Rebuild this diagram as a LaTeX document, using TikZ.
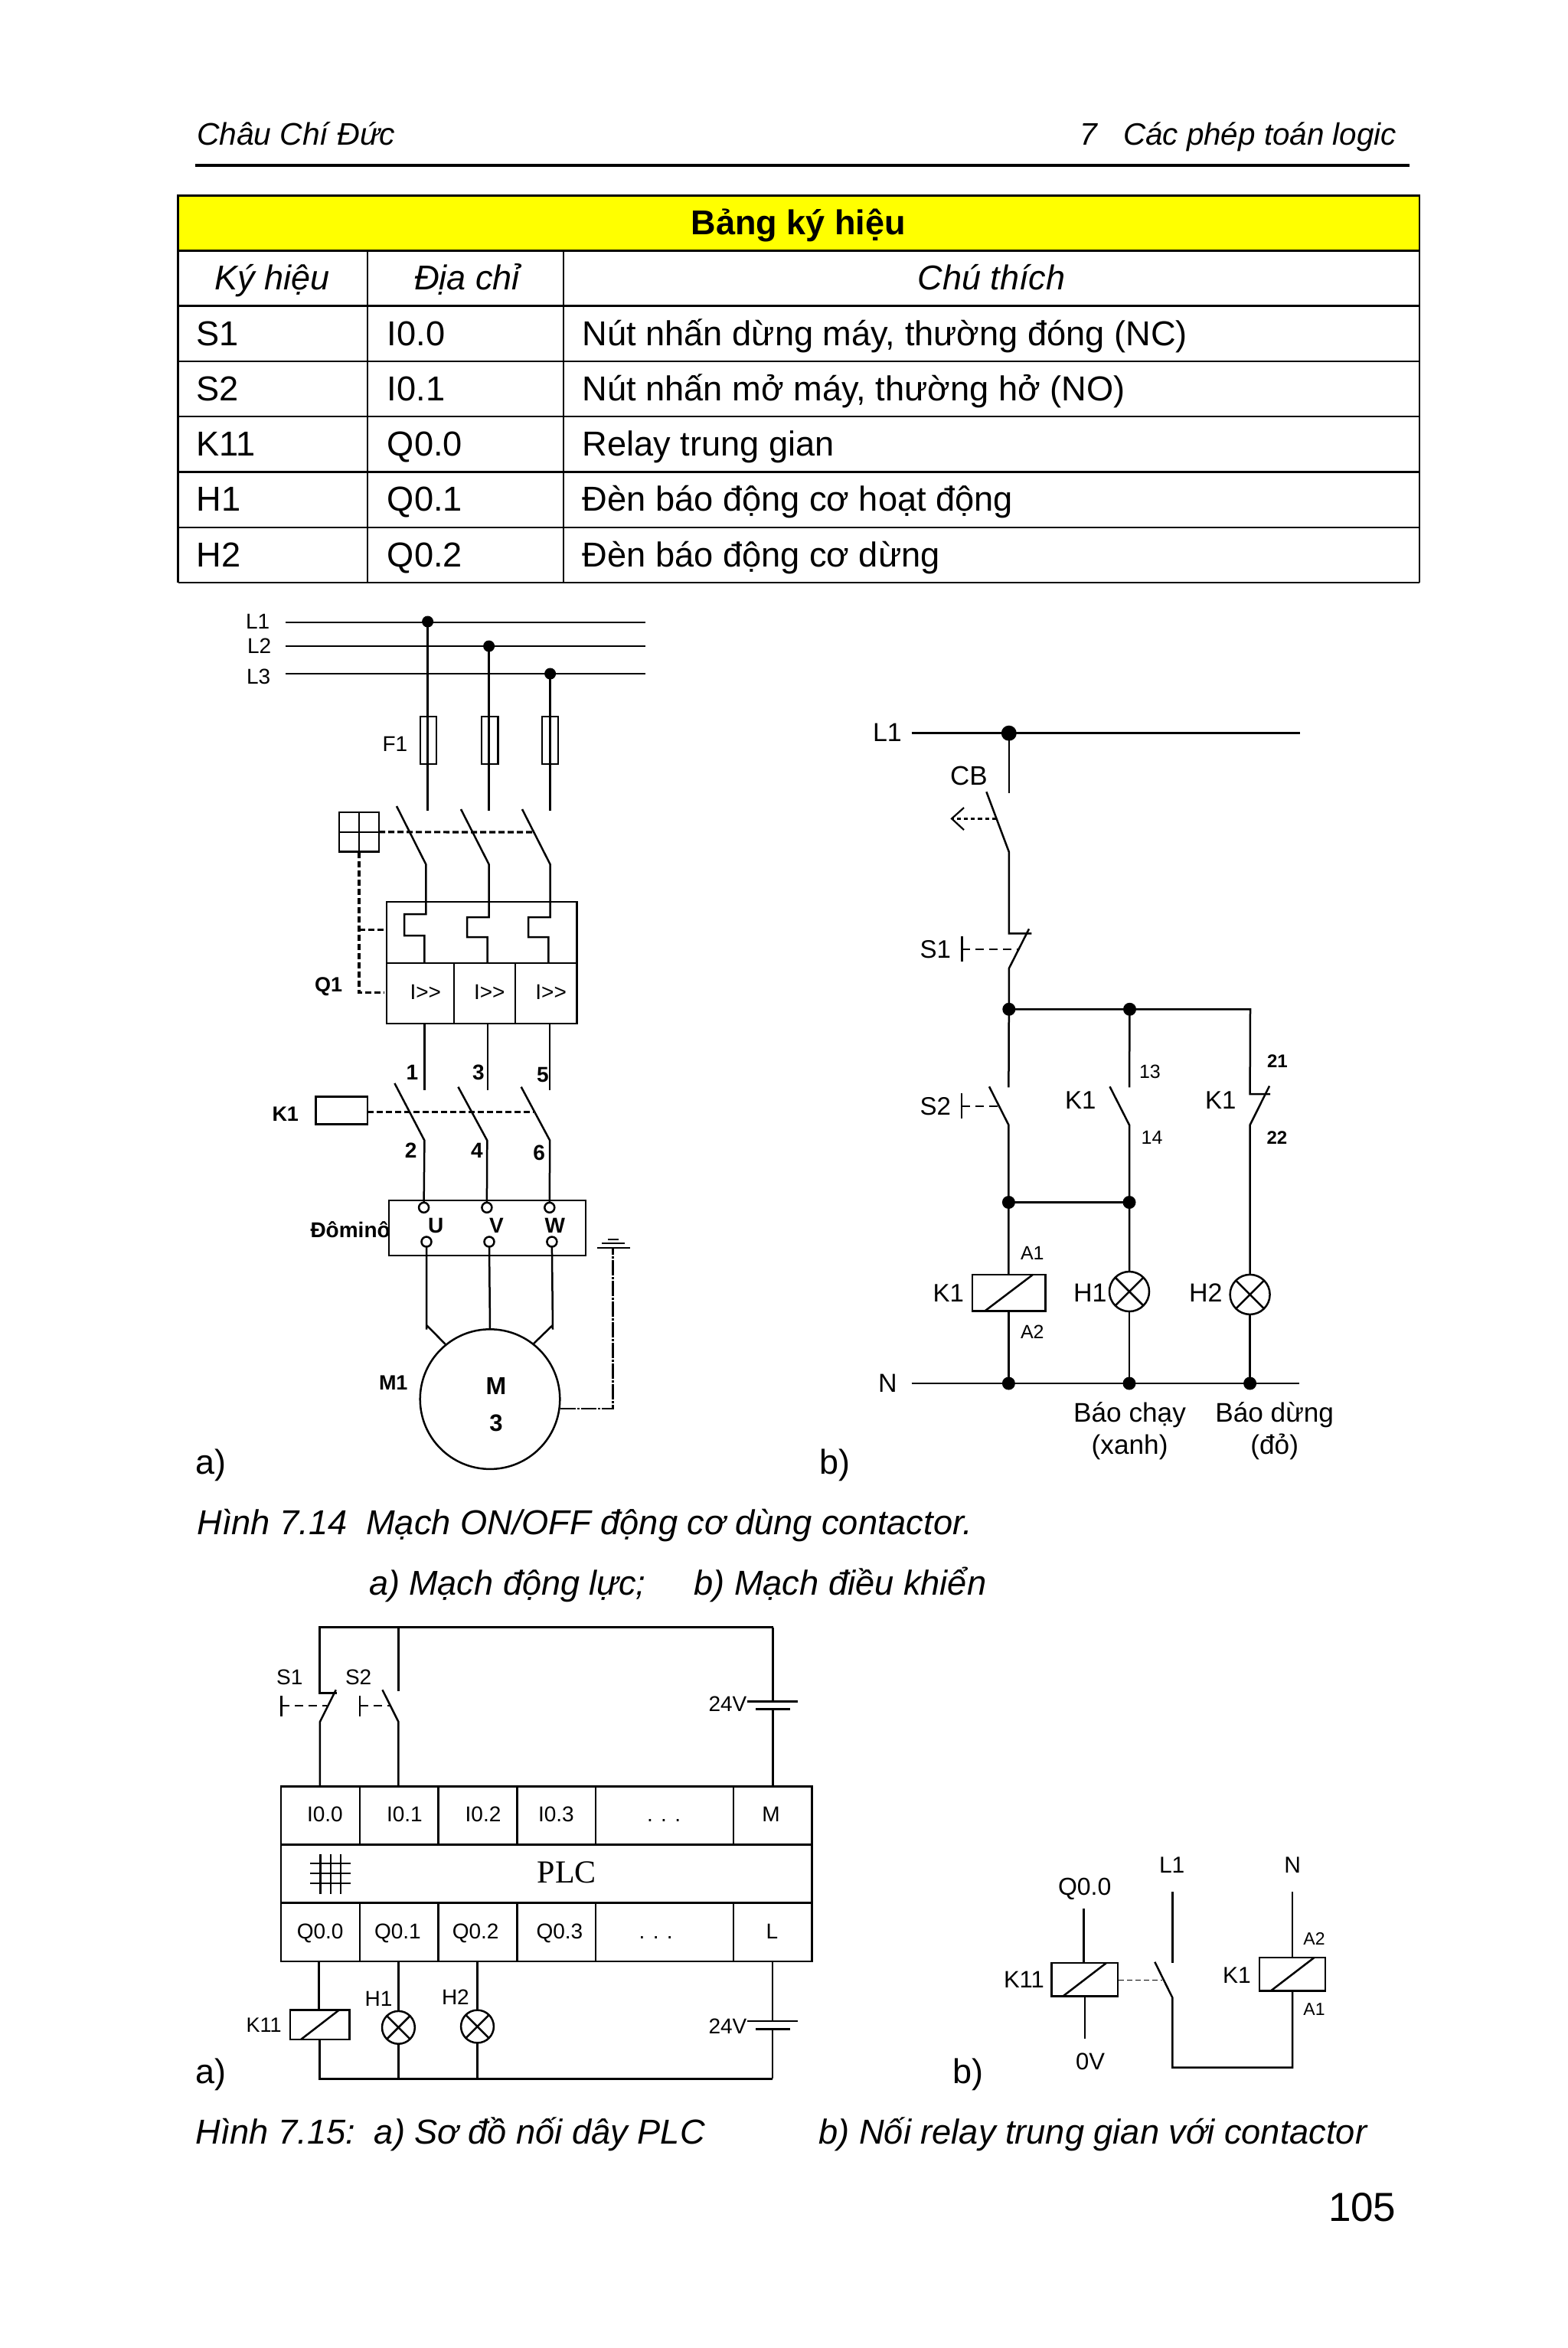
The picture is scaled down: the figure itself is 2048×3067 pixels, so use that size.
\documentclass[tikz,border=0pt]{standalone}
\usepackage{fontspec}
\setmainfont{Liberation Sans}
\newfontfamily\plcfont{Liberation Serif}
\definecolor{headyellow}{RGB}{255,255,0}
\tikzset{
  t/.style={anchor=base west,inner sep=0pt,outer sep=0pt,font=\fontsize{#1}{#1}\selectfont},
  tb/.style={anchor=base west,inner sep=0pt,outer sep=0pt,font=\fontsize{#1}{#1}\selectfont\bfseries},
  ti/.style={anchor=base west,inner sep=0pt,outer sep=0pt,font=\fontsize{#1}{#1}\selectfont\itshape},
  c/.style={anchor=base,inner sep=0pt,outer sep=0pt,font=\fontsize{#1}{#1}\selectfont},
  ci/.style={anchor=base,inner sep=0pt,outer sep=0pt,font=\fontsize{#1}{#1}\selectfont\itshape},
  wire/.style={line width=1.25pt},
  tline/.style={line width=1.3pt},
  box/.style 2 args={draw,rectangle,inner sep=0pt,outer sep=0pt,line width=1.25pt,minimum width=#1*0.5pt,minimum height=#2*0.5pt},
  lampn/.style={draw,circle,inner sep=0pt,outer sep=0pt,line width=1.25pt,minimum size=#1*1pt},
  term/.style={draw,circle,fill=white,inner sep=0pt,outer sep=0pt,line width=1.25pt,minimum size=13*0.5pt},
  dot/.style={fill=black},
  mech/.style={line width=1.6pt,dash pattern=on 4pt off 2pt},
  mechs/.style={line width=1pt,dash pattern=on 5.5pt off 3.5pt},
  arrowd/.style={line width=1.2pt,dash pattern=on 2.6pt off 2pt},
  earth/.style={line width=1.1pt,dash pattern=on 10pt off 1pt on 1.5pt off 1pt},
}
\newcommand\coil[6]{%
  \node[box={#4}{#5}] (#1) at (#2,#3) {};
  \draw[wire] ([xshift=#6*0.5pt]#1.south west) -- ([xshift=-#6*0.5pt]#1.north east);}
\newcommand\lamp[4]{%
  \node[lampn=#4] (#1) at (#2,#3) {};
  \draw[wire] (#1.45) -- (#1.225) (#1.135) -- (#1.-45);}
\begin{document}
\begin{tikzpicture}[x=0.5pt,y=-0.5pt]
\useasboundingbox (0,0) rectangle (2048,3067);
\fill[white] (0,0) rectangle (2048,3067);

% ---------- page header
\node[ti=20.4] (hl) at (257,190) {Châu Chí Đức};
\node[ti=20.4] (hn) at (1410,190) {7};
\node[ti=20.2] (hr) at (1467,190) {Các phép toán logic};
\coordinate (hra) at (255,216); \coordinate (hrb) at (1841,216);
\draw[line width=2pt] (hra) -- (hrb);

% ---------- table
\node[box={1621.5}{72.2},fill=headyellow,line width=1.3pt] (thead) at (1043.25,291.4) {};
\foreach \n/\y in {a/327.5,b/399.7,c/471.9,d/544,e/616.3,f/689,g/761}{
  \coordinate (l\n) at (232.5,\y); \coordinate (r\n) at (1854,\y);
  \draw[tline] (l\n) -- (r\n);
}
\draw[tline] (thead.north west) -- (lg) (thead.north east) -- (rg);
\coordinate (cb1) at (480,327.5); \coordinate (ce1) at (480,761);
\coordinate (cb2) at (736,327.5); \coordinate (ce2) at (736,761);
\draw[line width=1.1pt] (cb1) -- (ce1) (cb2) -- (ce2);
\node[c=22,font=\fontsize{22.5}{22}\selectfont\bfseries] (th0) at (1043,306.3) {Bảng ký hiệu};
\node[ci=22.5] (th1) at (356,378) {Ký hiệu};
\node[ci=22.5] (th2) at (610,378) {Địa chỉ};
\node[ci=22.5] (th3) at (1295,378) {Chú thích};
\node[t=22.6] (a1) at (256.4,451.6) {S1};
\node[t=22.6] (a2) at (505.9,451.6) {I0.0};
\node[t=22.6] (a3) at (760.7,451.6) {Nút nhấn dừng máy, thường đóng (NC)};
\node[t=22.6] (b1) at (256.4,523.4) {S2};
\node[t=22.6] (b2) at (505.9,523.4) {I0.1};
\node[t=22.6] (b3) at (760.7,523.4) {Nút nhấn mở máy, thường hở (NO)};
\node[t=22.6] (d1) at (256.4,595.6) {K11};
\node[t=22.6] (d2) at (505.9,595.6) {Q0.0};
\node[t=22.6] (d3) at (760.7,595.6) {Relay trung gian};
\node[t=22.6] (e1) at (256.4,667.8) {H1};
\node[t=22.6] (e2) at (505.9,667.8) {Q0.1};
\node[t=22.6] (e3) at (760.7,667.8) {Đèn báo động cơ hoạt động};
\node[t=22.6] (f1) at (256.4,740) {H2};
\node[t=22.6] (f2) at (505.9,740) {Q0.2};
\node[t=22.6] (f3) at (760.7,740) {Đèn báo động cơ dừng};

% ---------- Fig 7.14 a
\node[t=14] (lL1) at (321,821) {L1};
\node[t=14] (lL2) at (323,853.5) {L2};
\node[t=14] (lL3) at (322,893) {L3};
\coordinate (b1l) at (373,813); \coordinate (b1r) at (842.6,813);
\coordinate (b2l) at (373,844); \coordinate (b2r) at (842.6,844);
\coordinate (b3l) at (373,880); \coordinate (b3r) at (842.6,880);
\draw[wire] (b1l) -- (b1r) (b2l) -- (b2r) (b3l) -- (b3r);
\coordinate (j1) at (558.6,812); \coordinate (j2) at (638.6,844); \coordinate (j3) at (718.6,880);
\coordinate (c1) at (558.6,1059.4); \coordinate (c2) at (638.6,1059.4); \coordinate (c3) at (718.6,1059.4);
\draw[wire] (j1) -- (c1) (j2) -- (c2) (j3) -- (c3);
\fill[dot] (j1) circle (7.5) (j2) circle (7.5) (j3) circle (7.5);
\node[box={21}{62.2}] (f1a) at (559.5,967) {};
\node[box={21.5}{62.2}] (f1b) at (639.7,967) {};
\node[box={21}{62.2}] (f1c) at (718.5,967) {};
\node[t=14] (lF1) at (499.5,981) {F1};
% breaker
\coordinate (s1a) at (518,1053); \coordinate (s1b) at (556.3,1129);
\coordinate (s2a) at (602,1057); \coordinate (s2b) at (638.6,1129);
\coordinate (s3a) at (682,1057); \coordinate (s3b) at (718.6,1129);
\coordinate (s1c) at (556.3,1194); \coordinate (s1d) at (528,1194); \coordinate (s1e) at (528,1222); \coordinate (s1f) at (554.4,1222); \coordinate (s1g) at (554.4,1258);
\coordinate (s2c) at (638.6,1198); \coordinate (s2d) at (610,1198); \coordinate (s2e) at (610,1224); \coordinate (s2f) at (636.7,1224); \coordinate (s2g) at (636.7,1258);
\coordinate (s3c) at (718.6,1198); \coordinate (s3d) at (690,1198); \coordinate (s3e) at (690,1224); \coordinate (s3f) at (716.3,1224); \coordinate (s3g) at (716.3,1258);
\draw[wire] (s1a) -- (s1b) -- (s1c) -- (s1d) -- (s1e) -- (s1f) -- (s1g);
\draw[wire] (s2a) -- (s2b) -- (s2c) -- (s2d) -- (s2e) -- (s2f) -- (s2g);
\draw[wire] (s3a) -- (s3b) -- (s3c) -- (s3d) -- (s3e) -- (s3f) -- (s3g);
\node[box={248.4}{80}] (qtop) at (629.2,1218) {};
\node[box={88}{79}] (qa) at (549,1297.5) {};
\node[box={80}{79}] (qb) at (633,1297.5) {};
\node[box={80.4}{79}] (qc) at (713.2,1297.5) {};
\node[t=14] (qi1) at (535.6,1305) {I>\kern0pt>};
\node[t=14] (qi2) at (619,1305) {I>\kern0pt>};
\node[t=14] (qi3) at (699.4,1305) {I>\kern0pt>};
\node[tb=13.5] (lQ1) at (411,1295) {Q1};
\node[box={52}{51.6}] (hand) at (469,1086.8) {};
\draw[wire] (hand.north) -- (hand.south) (hand.west) -- (hand.east);
\coordinate (m1) at (696.4,1087);
\draw[mech] (hand.east) -- (m1);
\coordinate (m2) at (469,1296.6); \coordinate (m3) at (502,1296.6);
\coordinate (m4) at (469,1214.7); \coordinate (m5) at (502,1214.7);
\draw[mech] (hand.south) -- (m2) -- (m3);
\draw[mech] (m4) -- (m5);
% contactor
\coordinate (q1o) at (554.4,1337); \coordinate (q2o) at (637,1337); \coordinate (q3o) at (718,1337);
\coordinate (k1i) at (554.4,1423.5); \coordinate (k2i) at (637,1423.5); \coordinate (k3i) at (718,1423.5);
\draw[wire] (q1o) -- (k1i) (q2o) -- (k2i) (q3o) -- (k3i);
\coordinate (k1a) at (515.4,1415); \coordinate (k1b) at (554.4,1489.7);
\coordinate (k2a) at (598.4,1419.7); \coordinate (k2b) at (636.3,1489.7);
\coordinate (k3a) at (680.7,1419.7); \coordinate (k3b) at (718.2,1489.7);
\node[box={67.4}{36.3}] (kbox) at (446.1,1450.4) {};
\coordinate (km) at (696.4,1452.2);
\draw[mech] (kbox.east |- km) -- (km);
\node[tb=13.5] (lK1) at (355.5,1464.8) {K1};
\node[tb=14] (n1) at (530.7,1410) {1};
\node[tb=14] (n3) at (617,1410) {3};
\node[tb=14] (n5) at (701,1413) {5};
\node[tb=14] (n2) at (528.8,1512) {2};
\node[tb=14] (n4) at (615.2,1512) {4};
\node[tb=14] (n6) at (696.4,1515.7) {6};
% domino
\node[box={257}{72}] (dom) at (636.5,1603.8) {};
\node[term] (tu1) at (553.6,1577.3) {};
\node[term] (tu2) at (635.9,1577.3) {};
\node[term] (tu3) at (717.8,1577.3) {};
\node[term] (td1) at (557,1622) {};
\node[term] (td2) at (639,1622) {};
\node[term] (td3) at (720.9,1622) {};
\draw[wire] (k1a) -- (k1b) -- (tu1.north);
\draw[wire] (k2a) -- (k2b) -- (tu2.north);
\draw[wire] (k3a) -- (k3b) -- (tu3.north);
\node[tb=14] (lU) at (559,1610.2) {U};
\node[tb=14] (lV) at (639.2,1610.2) {V};
\node[tb=14] (lW) at (711.5,1610.2) {W};
\node[tb=14] (ldom) at (405.5,1616) {Đôminô};
% motor
\node[draw,circle,inner sep=0pt,outer sep=0pt,line width=1.25pt,minimum size=91.3pt] (mot) at (640,1827.6) {};
\node[c=15.5,font=\fontsize{16}{16}\selectfont\bfseries] (lM) at (648,1821.9) {M};
\node[c=15,font=\fontsize{15.5}{15.5}\selectfont\bfseries] (l3) at (648,1869.7) {3};
\node[tb=13.5] (lM1) at (495,1815) {M1};
\coordinate (me1) at (557,1736.5); \coordinate (md1a) at (557,1730.8); \coordinate (md1b) at (581.6,1755.7);
\coordinate (me3) at (722,1736.5); \coordinate (md3a) at (722,1730.8); \coordinate (md3b) at (697,1755);
\draw[wire] (td1.south) -- (me1) (md1a) -- (md1b);
\draw[wire] (td2.south) -- (mot.north);
\draw[wire] (td3.south) -- (me3) (md3a) -- (md3b);
\coordinate (ea) at (731.6,1840); \coordinate (eb) at (800.5,1840); \coordinate (ec) at (800.5,1630);
\draw[earth] (ea) -- (eb) -- (ec);
\coordinate (g1a) at (779.8,1630); \coordinate (g1b) at (822.7,1630);
\coordinate (g2a) at (786,1624); \coordinate (g2b) at (815.8,1624);
\coordinate (g3a) at (794,1619.4); \coordinate (g3b) at (808,1619.4);
\draw[wire] (g1a) -- (g1b);
\draw[line width=1pt] (g2a) -- (g2b) (g3a) -- (g3b);
\node[t=22.5] (la) at (255.4,1925) {a)};

% ---------- Fig 7.14 b
\node[t=17] (bL1) at (1140,968.3) {L1};
\coordinate (bl) at (1190.5,957.7); \coordinate (br) at (1697.5,957.7);
\draw[wire] (bl) -- (br);
\coordinate (bj0) at (1317.8,957.7); \coordinate (bw0) at (1317.8,1036);
\draw[wire] (bj0) -- (bw0);
\fill[dot] (bj0) circle (10);
\node[t=17.5] (bCB) at (1241,1025) {CB};
\coordinate (cba) at (1288.4,1034.3); \coordinate (cbb) at (1317.8,1112.7);
\coordinate (cbc) at (1317.8,1219.3); \coordinate (cbd) at (1347.3,1219.3);
\draw[wire] (cba) -- (cbb) -- (cbc) -- (cbd);
\coordinate (ar1) at (1301,1069.3); \coordinate (ar2) at (1243,1069.3);
\coordinate (ar3) at (1259,1055); \coordinate (ar4) at (1259,1084);
\draw[arrowd] (ar1) -- (ar2);
\draw[line width=1.1pt] (ar3) -- (ar2) -- (ar4);
\coordinate (s1x) at (1344,1213.3); \coordinate (s1y) at (1317.8,1265);
\coordinate (j10) at (1317.8,1318.3); \coordinate (j11) at (1475.5,1318.3);
\coordinate (j12) at (1633,1318.3);
\draw[wire] (s1x) -- (s1y) -- (j10);
\coordinate (ba1) at (1256.4,1223.3); \coordinate (ba2) at (1256.4,1256);
\coordinate (ba3) at (1256.4,1240); \coordinate (ba4) at (1330,1240);
\draw[wire] (ba1) -- (ba2);
\draw[mechs] (ba3) -- (ba4);
\node[t=16.5] (bS1) at (1201.5,1251) {S1};
\coordinate (w1b) at (1317.4,1420.4); \coordinate (w2b) at (1475,1420.4);
\coordinate (w3b) at (1632.6,1429); \coordinate (w3c) at (1659,1429);
\draw[wire] (j10) -- (w1b) (j11) -- (w2b) (j10) -- (j12) -- (w3b) -- (w3c);
\fill[dot] (j10) circle (8.5) (j11) circle (8.5);
\node[t=12.5] (b13) at (1488,1408) {13};
\node[tb=12] (b21) at (1655,1394) {21};
\coordinate (s2x) at (1292,1419.3); \coordinate (s2y) at (1317.4,1469.5);
\coordinate (k2x) at (1449.5,1419.3); \coordinate (k2y) at (1475,1469.5);
\coordinate (k3x) at (1658,1418.6); \coordinate (k3y) at (1632.6,1469.5);
\coordinate (j20) at (1317.4,1570.5); \coordinate (j21) at (1475,1570.5);
\coordinate (n0) at (1317.4,1807); \coordinate (n1p) at (1475,1807); \coordinate (n2p) at (1632.6,1807);
\coil{bk1}{1317.8}{1688.6}{95.6}{47.3}{16.6}
\lamp{bh1}{1475}{1687}{26}
\lamp{bh2}{1632.6}{1690.9}{26}
\draw[wire] (s2x) -- (s2y) -- (j20) -- (j20 |- bk1.north);
\draw[wire] (j20 |- bk1.south) -- (n0);
\draw[wire] (k2x) -- (k2y) -- (j21) -- (bh1.north);
\draw[wire] (bh1.south) -- (n1p);
\draw[wire] (k3x) -- (k3y) -- (bh2.north);
\draw[wire] (bh2.south) -- (n2p);
\draw[wire] (j20) -- (j21);
\fill[dot] (j20) circle (8.5) (j21) circle (8.5);
\coordinate (nl) at (1190.6,1807); \coordinate (nr) at (1697,1807);
\draw[wire] (nl) -- (nr);
\fill[dot] (n0) circle (8.5) (n1p) circle (8.5) (n2p) circle (8.5);
\coordinate (ba5) at (1255.8,1428); \coordinate (ba6) at (1255.8,1461.4);
\coordinate (ba7) at (1255.8,1444.6); \coordinate (ba8) at (1304.5,1444.6);
\draw[wire] (ba5) -- (ba6);
\draw[mechs] (ba7) -- (ba8);
\node[t=16.5] (bS2) at (1201.7,1456) {S2};
\node[t=16.5] (bK1a) at (1391,1448.4) {K1};
\node[t=16.5] (bK1b) at (1574,1448.4) {K1};
\node[t=12.5] (b14) at (1490.6,1494.7) {14};
\node[tb=12] (b22) at (1654.5,1494) {22};
\node[t=12.5] (bA1) at (1333,1645.6) {A1};
\node[t=12.5] (bA2) at (1333,1748.4) {A2};
\node[t=16.5] (bK1c) at (1218.6,1700.7) {K1};
\node[t=17] (bH1) at (1402,1700.7) {H1};
\node[t=17] (bH2) at (1553,1700.7) {H2};
\node[t=17] (bN) at (1147,1818.6) {N};
\node[c=17.6] (bcap1) at (1475.5,1857.9) {Báo chạy};
\node[c=17.6] (bcap2) at (1475.6,1899) {(xanh)};
\node[c=17.6] (bcap3) at (1664.7,1857.9) {Báo dừng};
\node[c=17.6] (bcap4) at (1664.7,1899) {(đỏ)};
\node[t=22.5] (lb) at (1070,1925) {b)};

% ---------- captions 7.14
\node[ti=22.6] (cap1) at (257.5,2004.3) {Hình 7.14\hspace{0.55em}Mạch ON/OFF động cơ dùng contactor.};
\node[ti=22.5] (cap2) at (482,2083.3) {a) Mạch động lực;};
\node[ti=22.6] (cap3) at (906.4,2083.3) {b) Mạch điều khiển};

% ---------- Fig 7.15 a
\node[box={693.9}{76}] (pi) at (713.75,2371.3) {};
\node[box={693.9}{76.4}] (pm) at (713.75,2447.5) {};
\node[box={693.9}{76.3}] (po) at (713.75,2523.85) {};
\foreach \n/\x in {1/469.9,2/572.4,3/675.5,4/778,5/958.2}{
  \coordinate (dia\n) at (\x,2333.3); \coordinate (dib\n) at (\x,2409.3);
  \coordinate (doa\n) at (\x,2485.7); \coordinate (dob\n) at (\x,2562);
  \draw[wire] (dia\n) -- (dib\n) (doa\n) -- (dob\n);
}
\node[t=14] (pI0) at (401,2379.3) {I0.0};
\node[t=14] (pI1) at (505,2379.3) {I0.1};
\node[t=14] (pI2) at (607.7,2379.3) {I0.2};
\node[t=14] (pI3) at (703,2379.3) {I0.3};
\node[t=14] (pId) at (845,2379.3) {. . .};
\node[t=14] (pM) at (995.4,2379.3) {M};
\node[t=14] (pQ0) at (387.8,2532.7) {Q0.0};
\node[t=14] (pQ1) at (489,2532.7) {Q0.1};
\node[t=14] (pQ2) at (590.8,2532.7) {Q0.2};
\node[t=14] (pQ3) at (700.5,2532.7) {Q0.3};
\node[t=14] (pQd) at (834.7,2532.7) {. . .};
\node[t=14] (pL) at (1000.5,2532.7) {L};
\node[anchor=base west,inner sep=0pt,font=\plcfont\fontsize{21}{21}\selectfont] (pPLC) at (701.5,2459.3) {PLC};
\foreach \n/\x in {1/418.4,2/431.6,3/444.9}{
  \coordinate (gv\n a) at (\x,2421.7); \coordinate (gv\n b) at (\x,2474);
  \draw[line width=1.1pt] (gv\n a) -- (gv\n b);
}
\foreach \n/\y in {1/2434.3,2/2447.3,3/2460.3}{
  \coordinate (gh\n a) at (405,\y); \coordinate (gh\n b) at (458,\y);
  \draw[line width=1.1pt] (gh\n a) -- (gh\n b);
}
% input wiring
\coordinate (ra) at (417.3,2125.7); \coordinate (rb) at (520.4,2125.7); \coordinate (rc) at (1009.7,2125.7);
\coordinate (ps1a) at (417.3,2211.7); \coordinate (ps1b) at (440.3,2211.7);
\coordinate (ps1c) at (438.8,2207.3); \coordinate (ps1d) at (417.9,2249); \coordinate (ps1e) at (417.9,2333.3);
\coordinate (ps2a) at (520.4,2209); \coordinate (ps2c) at (499.5,2207.3); \coordinate (ps2d) at (520.4,2249); \coordinate (ps2e) at (520.4,2333.3);
\draw[wire] (ps1b) -- (ps1a) -- (ra) -- (rc);
\draw[wire] (rb) -- (ps2a);
\draw[wire] (ps1c) -- (ps1d) -- (ps1e);
\draw[wire] (ps2c) -- (ps2d) -- (ps2e);
\coordinate (pb1a) at (367.3,2215); \coordinate (pb1b) at (367.3,2242.3); \coordinate (pb1c) at (367.3,2228.3); \coordinate (pb1d) at (426.5,2228.3);
\coordinate (pb2a) at (470,2215); \coordinate (pb2b) at (470,2242.3); \coordinate (pb2c) at (470,2228.3); \coordinate (pb2d) at (510.7,2228.3);
\draw[wire] (pb1a) -- (pb1b) (pb2a) -- (pb2b);
\draw[mechs] (pb1c) -- (pb1d);
\draw[mechs] (pb2c) -- (pb2d);
\node[t=14] (pS1) at (361.2,2200) {S1};
\node[t=14] (pS2) at (451,2200) {S2};
% top battery
\coordinate (bt1) at (1009.7,2222.3); \coordinate (bt2) at (976,2222.3); \coordinate (bt3) at (1042.3,2222.3);
\coordinate (bt4) at (987,2232.7); \coordinate (bt5) at (1032,2232.7); \coordinate (bt6) at (1009.7,2232.7); \coordinate (bt7) at (1009.7,2333.3);
\draw[wire] (rc) -- (bt1) (bt2) -- (bt3) (bt4) -- (bt5) (bt6) -- (bt7);
\node[t=14] (pV1) at (925.5,2235) {24V};
% output wiring
\coil{pk11}{417.8}{2644.85}{77.6}{38.3}{14}
\lamp{ph1}{520.4}{2648.3}{21.4}
\lamp{ph2}{623.5}{2647}{21.4}
\coordinate (oq0) at (416.3,2562); \coordinate (oq1) at (520.4,2562); \coordinate (oq2) at (623.5,2562);
\coordinate (rl0) at (417.3,2715.3); \coordinate (rl1) at (520.4,2715.3); \coordinate (rl2) at (623.5,2715.3); \coordinate (rl3) at (1009.2,2715.3);
\draw[wire] (oq0) -- (oq0 |- pk11.north);
\draw[wire] (oq1) -- (ph1.north) (ph1.south) -- (rl1);
\draw[wire] (oq2) -- (ph2.north) (ph2.south) -- (rl2);
\draw[wire] (rl0 |- pk11.south) -- (rl0) -- (rl3);
\coordinate (ol) at (1009.2,2562); \coordinate (bb1) at (1009.2,2640);
\coordinate (bb2) at (976,2640); \coordinate (bb3) at (1042.3,2640);
\coordinate (bb4) at (987,2650.7); \coordinate (bb5) at (1032,2650.7); \coordinate (bb6) at (1009.2,2650.7);
\draw[wire] (ol) -- (bb1) (bb2) -- (bb3) (bb4) -- (bb5) (bb6) -- (rl3);
\node[t=14] (pV2) at (925.5,2656.7) {24V};
\node[t=13.5] (pK11) at (321.5,2654.3) {K11};
\node[t=14] (pH1) at (476.6,2620.7) {H1};
\node[t=14] (pH2) at (577,2618.3) {H2};
\node[t=22.5] (la2) at (255.5,2721.7) {a)};

% ---------- Fig 7.15 b
\node[t=16] (rQ) at (1382,2475) {Q0.0};
\coil{rk11}{1416.8}{2585.65}{86.4}{43.3}{15}
\coordinate (rq1) at (1415.3,2492.7); \coordinate (rq2) at (1416.9,2663.3);
\draw[wire] (rq1) -- (rq1 |- rk11.north) (rq2 |- rk11.south) -- (rq2);
\node[t=15.5] (rK11) at (1311,2596.7) {K11};
\node[t=15.5] (r0V) at (1405,2703.3) {0V};
\node[t=15] (rL1) at (1514,2446.7) {L1};
\node[t=15] (rN) at (1677.4,2446.7) {N};
\coil{rk1}{1688}{2578.85}{86}{43.7}{14.5}
\coordinate (rl1a) at (1531.3,2471); \coordinate (rl1b) at (1531.3,2564);
\coordinate (rb1) at (1508.3,2562.7); \coordinate (rb2) at (1531.3,2609.3);
\coordinate (rb3) at (1531.3,2700.7); \coordinate (rb4) at (1688.2,2700.7);
\coordinate (rna) at (1688.2,2471);
\draw[wire] (rl1a) -- (rl1b);
\draw[wire] (rb1) -- (rb2) -- (rb3) -- (rb4) -- (rb4 |- rk1.south);
\draw[wire] (rna) -- (rna |- rk1.north);
\coordinate (rda) at (1461.2,2586); \coordinate (rdb) at (1517.9,2586);
\draw[line width=0.5pt,dash pattern=on 3.5pt off 2pt] (rda) -- (rdb);
\node[t=11.5] (rA2) at (1702.4,2540) {A2};
\node[t=11.5] (rA1) at (1702.4,2632.7) {A1};
\node[t=15] (rK1) at (1597,2590) {K1};
\node[t=22.5] (lb2) at (1244,2721.7) {b)};

% ---------- captions 7.15, page number
\node[ti=22.6] (cap4) at (255.5,2800.7) {Hình 7.15:\hspace{0.55em}a) Sơ đồ nối dây PLC};
\node[ti=22.6] (cap5) at (1069.6,2800.7) {b) Nối relay trung gian với contactor};
\node[t=26.5] (pg) at (1735,2901.7) {105};
\end{tikzpicture}
\end{document}
